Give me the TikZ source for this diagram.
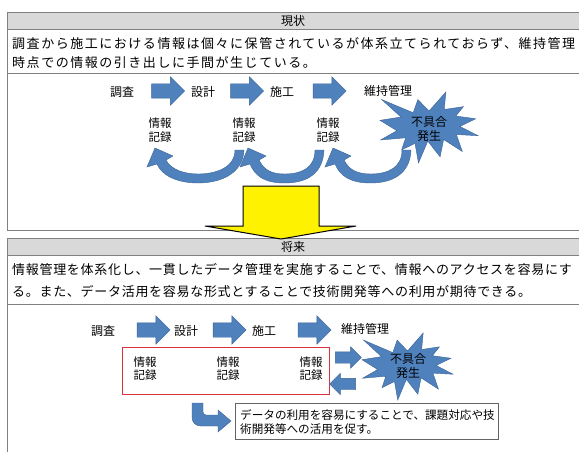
\documentclass[tikz,border=0pt]{standalone}
\usepackage{fontspec}
\setmainfont{Noto Sans CJK JP}
\usetikzlibrary{shapes.arrows}
\definecolor{hdrgray}{RGB}{217,217,217}
\definecolor{linegray}{RGB}{128,128,128}
\definecolor{bluefill}{RGB}{79,129,189}
\definecolor{blueline}{RGB}{60,100,150}
\definecolor{redbox}{RGB}{218,50,60}
\definecolor{boxgray}{RGB}{100,100,100}
\newcommand{\curvearr}[2]{%
  \pgfmathsetmacro{\ca}{#1}\pgfmathsetmacro{\cb}{#2}\pgfmathsetmacro{\cm}{(#1+#2)/2}%
  \fill[bluefill, draw=blueline, line width=0.4pt]
    (\cb+3,150) .. controls (\cb+2,174) and (\cm+22,183) .. (\cm,183)
    .. controls (\cm-20,183) and (\ca+7,176) .. (\ca+2,164)
    -- (\ca-8,167) -- (\ca,148) -- (\ca+18,156) -- (\ca+11,160)
    .. controls (\ca+16,170) and (\cm-13,174) .. (\cm,174)
    .. controls (\cm+17,174) and (\cb-6,168) .. (\cb-6,150) -- cycle;}
\newcommand{\explosion}[4]{%
  \begin{scope}[shift={(#1,#2)}, xscale=#3/100, yscale=#4/100]
  \fill[bluefill, draw=blueline, line width=0.4pt]
    (50.0,26.85) -- (67.23,0) -- (65.53,24.65) -- (85.09,20.63) -- (77.32,33.87)
    -- (97.67,37.67) -- (81.51,48.50) -- (100,61.53) -- (77.95,59.92) -- (84.00,83.77)
    -- (64.91,66.93) -- (61.33,91.38) -- (48.76,69.14) -- (39.28,100) -- (35.72,72.35)
    -- (22.05,81.56) -- (26.24,64.52) -- (0.63,67.53) -- (17.23,54.51) -- (0,39.88)
    -- (21.42,35.26) -- (1.71,10.63) -- (33.85,29.26) -- (38.67,10.63) -- cycle;
  \end{scope}}
\begin{document}
\begin{tikzpicture}[x=1pt, y=-1pt,
  tline/.style={draw=linegray, line width=0.8pt},
  hdr/.style={font=\fontsize{12}{14}\selectfont, inner sep=0pt},
  bodyA/.style={font=\fontsize{13}{15}\selectfont\addfontfeature{LetterSpace=11.8}, inner sep=0pt, anchor=west},
  bodyB/.style={font=\fontsize{13}{15}\selectfont\addfontfeature{LetterSpace=5.4}, inner sep=0pt, anchor=west},
  flow/.style={font=\fontsize{12}{14}\selectfont, inner sep=0pt},
  info/.style={font=\fontsize{11.5}{13.5}\selectfont, align=center, inner sep=0pt},
  blockarrow/.style={single arrow, fill=bluefill, draw=blueline, line width=0.4pt,
     minimum height=33pt, inner xsep=0pt, inner ysep=7pt, single arrow head extend=7pt},
  smallarrow/.style={single arrow, fill=bluefill, draw=blueline, line width=0.4pt,
     minimum height=26pt, inner xsep=0pt, inner ysep=5.5pt, single arrow head extend=5pt},
  startxt/.style={font=\fontsize{12}{14}\selectfont, align=center, inner sep=0pt}
]
\useasboundingbox (0,0) rectangle (579,452);
\fill[white] (0,0) rectangle (579,452);

% ---------- table 1 ----------
\fill[hdrgray] (7,12) rectangle (580,29);
\draw[tline] (580,12) -- (7,12) -- (7,230) -- (580,230);
\draw[tline] (7,29) -- (580,29);
\draw[tline] (7,73) -- (580,73);
\node[hdr] (h1) at (293,20.5) {現状};
\node[bodyA] (t1a) at (12,44) {調査から施工における情報は個々に保管されているが体系立てられておらず、維持管理};
\node[bodyA] (t1b) at (12,63) {時点での情報の引き出しに手間が生じている。};

% flow 1
\node[flow] (a1) at (122,92) {調査};
\node[blockarrow] (ar1) at (164.5,91) {};
\node[flow] (a2) at (203,92) {設計};
\node[blockarrow] (ar2) at (243.5,91) {};
\node[flow] (a3) at (282,92) {施工};
\node[blockarrow] (ar3) at (326,91) {};
\node[flow] (a4) at (388,91) {維持管理};
\node[info] (i1) at (160,130) {情報\\記録};
\node[info] (i2) at (244,130) {情報\\記録};
\node[info] (i3) at (328,130) {情報\\記録};
\curvearr{155}{241}
\curvearr{248}{321}
\curvearr{333}{408}
\explosion{380}{92}{98}{71}
\node[startxt] (s1) at (429,129) {不具合\\発生};

% ---------- table 2 ----------
\fill[hdrgray] (7,238) rectangle (580,255);
\draw[tline] (580,238) -- (7,238) -- (7,453);
\draw[tline] (7,255) -- (580,255);
\draw[tline] (7,304) -- (580,304);
\node[hdr] (h2) at (293,246.5) {将来};
\node[bodyB] (t2a) at (12,270) {情報管理を体系化し、一貫したデータ管理を実施することで、情報へのアクセスを容易にす};
\node[bodyB] (t2b) at (12,292) {る。また、データ活用を容易な形式とすることで技術開発等への利用が期待できる。};

% flow 2
\node[flow] (b1) at (103,331) {調査};
\node[blockarrow] (br1) at (150,330) {};
\node[flow] (b2) at (186,331) {設計};
\node[blockarrow] (br2) at (226,330) {};
\node[flow] (b3) at (264,331) {施工};
\node[blockarrow] (br3) at (311,330) {};
\node[flow] (b4) at (365,329) {維持管理};
\node[draw=redbox, line width=1pt, minimum width=207pt, minimum height=47pt, inner sep=0pt] (rb) at (225.5,370.5) {};
\node[info] (j1) at (145,368.5) {情報\\記録};
\node[info] (j2) at (228,368.5) {情報\\記録};
\node[info] (j3) at (311,368.5) {情報\\記録};
\node[smallarrow] (rr) at (345.5,357.5) {};
\node[smallarrow, shape border rotate=180] (rl) at (345.5,384) {};
\explosion{362}{333}{91}{67}
\node[startxt] (s2) at (408,366) {不具合\\発生};

% bent arrow
\fill[bluefill, draw=blueline, line width=0.4pt]
  (192,403) -- (192,417) .. controls (192,422.5) and (195.5,426) .. (201,426) -- (218,426)
  -- (218,432) -- (231,421) -- (218,410) -- (218,415) -- (206,415)
  .. controls (204.3,415) and (203,413.7) .. (203,412) -- (203,403) -- cycle;
\node[draw=boxgray, line width=0.7pt, anchor=north west, minimum width=263pt, minimum height=36pt,
      inner sep=0pt] (tb) at (235,403) {};
\node[font=\fontsize{11.6}{13}\selectfont, anchor=west, inner sep=0pt] (tb1) at (240,415.5) {データの利用を容易にすることで、課題対応や技};
\node[font=\fontsize{11.6}{13}\selectfont, anchor=west, inner sep=0pt] (tb2) at (240,429) {術開発等への活用を促す。};

% ---------- yellow arrow ----------
\filldraw[fill=yellow, draw=black, line width=1pt, line join=miter]
  (243,186) -- (319,186) -- (319,226) -- (356,226) -- (281,239) -- (205,226) -- (243,226) -- cycle;
\end{tikzpicture}
\end{document}
